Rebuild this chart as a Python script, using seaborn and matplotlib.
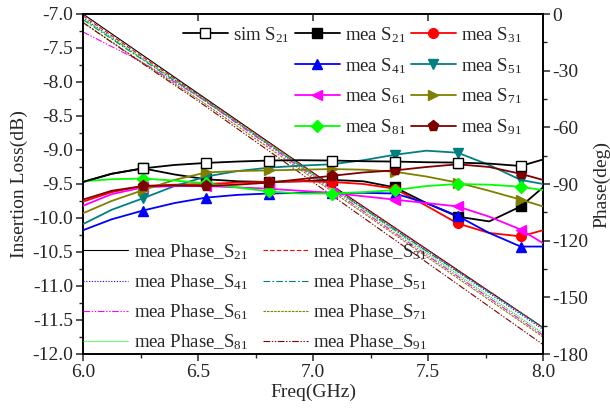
import matplotlib
matplotlib.use("Agg")
import matplotlib.pyplot as plt
from matplotlib.lines import Line2D
from matplotlib.ticker import MultipleLocator, FormatStrFormatter
import seaborn as sns
import pandas as pd

sns.set_style("ticks")
plt.rcParams["font.family"] = ["Liberation Serif", "DejaVu Serif"]
plt.rcParams["mathtext.fontset"] = "custom"
plt.rcParams["mathtext.rm"] = "Liberation Serif"
plt.rcParams["mathtext.it"] = "Liberation Serif"
plt.rcParams["axes.unicode_minus"] = False

# frequency samples (GHz) for the magnitude curves
freq = [6.0, 6.124, 6.261, 6.398, 6.535, 6.671, 6.808, 6.945, 7.082,
        7.219, 7.356, 7.493, 7.629, 7.766, 7.903, 8.0]

# insertion loss (dB)
sim_s21 = [-9.47, -9.35, -9.27, -9.22, -9.19, -9.17, -9.155, -9.15, -9.155,
           -9.165, -9.17, -9.18, -9.185, -9.2, -9.235, -9.14]
mea_s21 = [-9.47, -9.35, -9.27, -9.36, -9.43, -9.46, -9.47, -9.46, -9.44,
           -9.46, -9.55, -9.78, -9.98, -10.05, -9.83, -9.55]
mea_s31 = [-9.76, -9.62, -9.53, -9.51, -9.50, -9.48, -9.47, -9.46, -9.47,
           -9.50, -9.57, -9.82, -10.08, -10.22, -10.27, -10.18]
mea_s41 = [-10.18, -10.02, -9.89, -9.78, -9.70, -9.66, -9.64, -9.63, -9.63,
           -9.63, -9.64, -9.78, -9.97, -10.22, -10.42, -10.42]
mea_s51 = [-10.09, -9.88, -9.71, -9.53, -9.39, -9.31, -9.26, -9.23, -9.21,
           -9.15, -9.07, -9.01, -9.04, -9.22, -9.44, -9.50]
mea_s61 = [-9.82, -9.65, -9.55, -9.53, -9.53, -9.55, -9.57, -9.60, -9.63,
           -9.68, -9.73, -9.78, -9.83, -9.98, -10.17, -10.37]
mea_s71 = [-9.93, -9.75, -9.59, -9.44, -9.33, -9.31, -9.30, -9.29, -9.28,
           -9.29, -9.32, -9.39, -9.48, -9.60, -9.73, -9.83]
mea_s81 = [-9.46, -9.43, -9.42, -9.45, -9.49, -9.55, -9.61, -9.64, -9.64,
           -9.62, -9.59, -9.53, -9.50, -9.51, -9.54, -9.59]
mea_s91 = [-9.73, -9.60, -9.53, -9.52, -9.53, -9.51, -9.48, -9.43, -9.38,
           -9.33, -9.30, -9.25, -9.21, -9.25, -9.35, -9.44]

# frequency samples (GHz) for the phase curves
freq_phase = [6.0, 6.25, 6.5, 7.0, 7.5, 8.0]

# measured phase (deg)
ph_s21 = [0.0, -21.0, -42.0, -84.0, -125.0, -166.0]
ph_s31 = [-1.0, -22.0, -42.5, -84.0, -125.0, -166.0]
ph_s41 = [-2.0, -23.0, -43.0, -85.0, -126.0, -167.0]
ph_s51 = [-3.0, -23.5, -43.5, -85.0, -126.0, -166.0]
ph_s61 = [-9.5, -25.0, -43.5, -86.0, -128.0, -170.0]
ph_s71 = [-4.5, -25.0, -45.0, -87.0, -129.0, -171.0]
ph_s81 = [-2.5, -23.0, -43.0, -85.0, -127.0, -169.0]
ph_s91 = [-4.5, -25.5, -46.0, -89.0, -132.0, -175.0]

mag_labels = ["sim S$_{21}$", "mea S$_{21}$", "mea S$_{31}$", "mea S$_{41}$",
              "mea S$_{51}$", "mea S$_{61}$", "mea S$_{71}$", "mea S$_{81}$",
              "mea S$_{91}$"]
phase_labels = ["mea Phase_S$_{21}$", "mea Phase_S$_{31}$", "mea Phase_S$_{41}$",
                "mea Phase_S$_{51}$", "mea Phase_S$_{61}$", "mea Phase_S$_{71}$",
                "mea Phase_S$_{81}$", "mea Phase_S$_{91}$"]

colors = ["#000000", "#000000", "#FF0000", "#0000FF", "#008080", "#FF00FF",
          "#808000", "#00FF00", "#800000"]
markers = ["s", "s", "o", "^", "v", "<", ">", "D", "p"]
msizes = [6.5, 6.5, 7, 7.5, 7.5, 7.5, 7.5, 6, 8]

phase_colors = ["#000000", "#FF0000", "#0000FF", "#008080", "#FF00FF",
                "#808000", "#00FF00", "#800000"]
phase_dashes = [None, (4, 2), (1, 1.5), (6, 2, 1.5, 2), (6, 1.5, 1.2, 1.5, 1.2, 1.5),
                (2.2, 1), (1, 0.8), (6, 1.5, 1.2, 1.5, 1.2, 1.5)]

fig = plt.figure(figsize=(6.10, 4.11), dpi=100)
ax = fig.add_axes([83 / 610, 1 - 354 / 411, 460 / 610, 340 / 411])
ax2 = ax.twinx()

# phase curves on the right axis
for lab, ys, col, dsh in zip(phase_labels,
                             [ph_s21, ph_s31, ph_s41, ph_s51, ph_s61, ph_s71, ph_s81, ph_s91],
                             phase_colors, phase_dashes):
    df = pd.DataFrame({"f": freq_phase, "p": ys})
    sns.lineplot(data=df, x="f", y="p", ax=ax2, color=col, lw=0.8,
                 label=lab, legend=False)
    ln = ax2.get_lines()[-1]
    if dsh is not None:
        ln.set_dashes(dsh)

# insertion-loss curves on the left axis
mag_series = [sim_s21, mea_s21, mea_s31, mea_s41, mea_s51, mea_s61,
              mea_s71, mea_s81, mea_s91]
mag_order = [1, 2, 3, 4, 5, 6, 7, 8, 0]
for i in mag_order:
    df = pd.DataFrame({"f": freq, "v": mag_series[i]})
    face = "white" if i == 0 else colors[i]
    sns.lineplot(data=df, x="f", y="v", ax=ax, color=colors[i], lw=1.3,
                 marker=markers[i], markersize=msizes[i], markerfacecolor=face,
                 markeredgecolor=colors[i], markeredgewidth=1.0,
                 markevery=list(range(2, 15, 2)), label=mag_labels[i],
                 legend=False, zorder=3 + (1 if i == 0 else 0))

ax.set_zorder(ax2.get_zorder() + 1)
ax.patch.set_visible(False)

ax.set_xlim(6.0, 8.0)
ax.set_ylim(-12.0, -7.0)
ax2.set_ylim(-180, 0)

ax.xaxis.set_major_locator(MultipleLocator(0.5))
ax.xaxis.set_minor_locator(MultipleLocator(0.25))
ax.xaxis.set_major_formatter(FormatStrFormatter("%.1f"))
ax.yaxis.set_major_locator(MultipleLocator(0.5))
ax.yaxis.set_minor_locator(MultipleLocator(0.25))
ax.yaxis.set_major_formatter(FormatStrFormatter("%.1f"))
ax2.yaxis.set_major_locator(MultipleLocator(30))
ax2.yaxis.set_minor_locator(MultipleLocator(15))
ax2.yaxis.set_major_formatter(FormatStrFormatter("%d"))

fs = 14
ax.tick_params(axis="both", which="major", direction="out", length=5, width=1.1,
               labelsize=fs, pad=2)
ax.tick_params(axis="both", which="minor", direction="out", length=3, width=1.0)
ax2.tick_params(axis="y", which="major", direction="out", length=5, width=1.1,
                labelsize=fs, pad=2)
ax2.tick_params(axis="y", which="minor", direction="out", length=3, width=1.0)

top = ax.secondary_xaxis("top")
top.set_xticks([6.0, 6.5, 7.0, 7.5, 8.0])
top.tick_params(direction="in", length=5, width=1.1, labeltop=False)

for a in (ax, ax2):
    for s in a.spines.values():
        s.set_linewidth(1.2)
        s.set_color("black")
top.spines["top"].set_linewidth(1.2)

ax.set_xlabel("Freq(GHz)", fontsize=fs, labelpad=2)
ax.set_ylabel("Insertion Loss(dB)", fontsize=fs, labelpad=3)
ax2.set_ylabel("Phase(deg)", fontsize=fs, labelpad=3)

# legend for insertion loss, first column holds only the simulated curve
mag_lines = {ln.get_label(): ln for ln in ax.get_lines()}
blank = Line2D([], [], linestyle="none", marker=None)
h = [mag_lines[mag_labels[0]], blank, blank, blank,
     mag_lines[mag_labels[1]], mag_lines[mag_labels[3]], mag_lines[mag_labels[5]],
     mag_lines[mag_labels[7]],
     mag_lines[mag_labels[2]], mag_lines[mag_labels[4]], mag_lines[mag_labels[6]],
     mag_lines[mag_labels[8]]]
l = [mag_labels[0], "", "", "", mag_labels[1], mag_labels[3], mag_labels[5],
     mag_labels[7], mag_labels[2], mag_labels[4], mag_labels[6], mag_labels[8]]
leg1 = ax.legend(h, l, ncol=3, loc="upper right", bbox_to_anchor=(0.955, 0.968),
                 frameon=False, fontsize=13.5, handlelength=2.4, handletextpad=0.3,
                 columnspacing=0.25, labelspacing=0.6, borderpad=0, borderaxespad=0)
ax.add_artist(leg1)

ph_lines = ax2.get_lines()
ph_h = [ph_lines[0], ph_lines[2], ph_lines[4], ph_lines[6],
        ph_lines[1], ph_lines[3], ph_lines[5], ph_lines[7]]
ph_l = [ln.get_label() for ln in ph_h]
leg2 = ax.legend(ph_h, ph_l, ncol=2, loc="lower left", bbox_to_anchor=(0.0, 0.005),
                 frameon=False, fontsize=13.5, handlelength=2.4, handletextpad=0.3,
                 columnspacing=0.8, labelspacing=0.56, borderpad=0, borderaxespad=0)

fig.savefig("out.png", dpi=100)
